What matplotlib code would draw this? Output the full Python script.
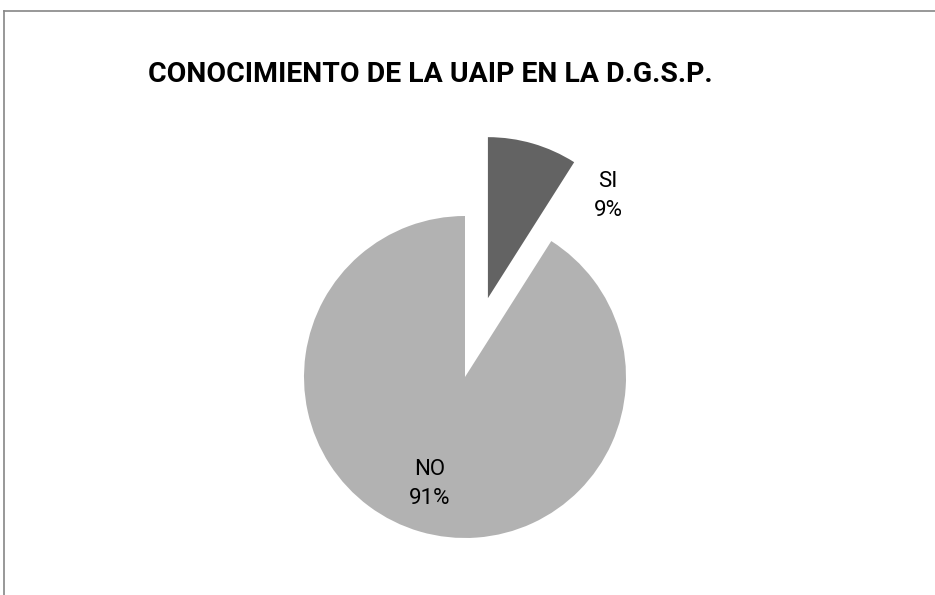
import matplotlib
matplotlib.use("Agg")
import matplotlib.pyplot as plt
from matplotlib.lines import Line2D

labels = ["SI", "NO"]
values = [9, 91]
colors = ["#636363", "#b2b2b2"]
explode = [0.51, 0.0]
title = "CONOCIMIENTO DE LA UAIP EN LA D.G.S.P."

W, H = 935, 595
fig = plt.figure(figsize=(W / 100, H / 100), dpi=100)
fig.patch.set_facecolor("white")

R = 161.0
cx, cy = 465.0, H - 377.0
ax = fig.add_axes([0, 0, 1, 1])

wedges, _ = ax.pie(values, colors=colors, explode=explode, startangle=90,
                   counterclock=False, radius=1.0,
                   wedgeprops=dict(linewidth=0))
ax.set_aspect("equal", adjustable="box")
ax.set_xlim(-cx / R, (W - cx) / R)
ax.set_ylim(-cy / R, (H - cy) / R)
ax.axis("off")

font = ["Roboto", "DejaVu Sans"]
total = sum(values)
label_px = [(608, 196), (430, 484)]
for lab, v, (px, py) in zip(labels, values, label_px):
    ax.text((px - cx) / R, ((H - py) - cy) / R,
            f"{lab}\n{round(100 * v / total)}%",
            ha="center", va="center", fontsize=16, family=font,
            color="#000000", linespacing=1.55)

fig.text(148 / W, 1 - 74 / H, title, ha="left", va="center",
         fontsize=20.4, fontweight="bold", family=font, color="#000000")

fig.add_artist(Line2D([4 / W, 1.0], [1 - 11 / H, 1 - 11 / H],
                      transform=fig.transFigure, color="#868686", lw=1.2))
fig.add_artist(Line2D([4 / W, 4 / W], [1 - 11 / H, 0.0],
                      transform=fig.transFigure, color="#868686", lw=1.2))

fig.savefig("out.png", dpi=100, facecolor="white")
